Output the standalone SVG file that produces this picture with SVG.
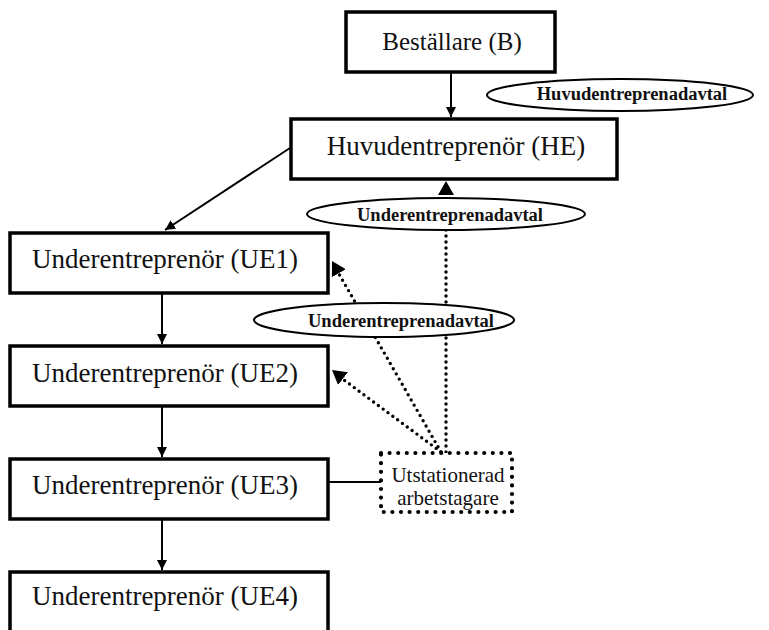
<svg xmlns="http://www.w3.org/2000/svg" width="769" height="630" viewBox="0 0 769 630">
<style>
  .box { fill: #fff; stroke: #000; stroke-width: 3.5; }
  .dbox { fill: #fff; stroke: #000; stroke-width: 4.2; stroke-linecap: round; stroke-dasharray: 0 8.6; }
  .t { font-family: "Liberation Serif", "Times New Roman", serif; fill: #111; text-anchor: middle; }
  .big { font-size: 27px; }
  .mid { font-size: 25px; }
  .lbl { font-size: 18.5px; font-weight: bold; }
  .ut { font-size: 21px; }
  .solid { stroke: #000; stroke-width: 2; fill: none; }
  .dot { stroke: #000; stroke-width: 3.4; fill: none; stroke-linecap: round; stroke-dasharray: 0 6; }
  .ell { fill: #fff; stroke: #000; stroke-width: 2; }
</style>
<defs>
  <marker id="a" viewBox="0 0 10 10" refX="10" refY="5" markerWidth="10" markerHeight="10" markerUnits="userSpaceOnUse" orient="auto">
    <path d="M0,0 L10,5 L0,10 z" fill="#000"/>
  </marker>
  <marker id="b" viewBox="0 0 14 16" refX="14" refY="8" markerWidth="14" markerHeight="16" markerUnits="userSpaceOnUse" orient="auto">
    <path d="M0,0 L14,8 L0,16 z" fill="#000"/>
  </marker>
</defs>
<rect width="769" height="630" fill="#fff"/>

<g id="connectors">
  <line class="solid" x1="451" y1="72" x2="451" y2="117" marker-end="url(#a)"/>
  <line class="solid" x1="290" y1="148" x2="165" y2="230" marker-end="url(#a)"/>
  <line class="solid" x1="162" y1="293" x2="162" y2="344" marker-end="url(#a)"/>
  <line class="solid" x1="162" y1="406" x2="162" y2="457" marker-end="url(#a)"/>
  <line class="solid" x1="162" y1="519" x2="162" y2="570" marker-end="url(#a)"/>
  <line class="solid" x1="328" y1="482" x2="381" y2="482"/>
  <line class="dot" x1="446" y1="452" x2="446" y2="196"/>
  <line x1="446" y1="197" x2="446" y2="181" stroke="none" marker-end="url(#b)"/>
  <line class="dot" x1="441" y1="452" x2="339" y2="274"/>
  <line x1="341" y1="277" x2="332" y2="261" stroke="none" marker-end="url(#b)"/>
  <line class="dot" x1="441" y1="452" x2="344" y2="380"/>
  <line x1="346" y1="381" x2="332" y2="370" stroke="none" marker-end="url(#b)"/>
</g>

<g id="avtal-he">
  <ellipse class="ell" cx="620" cy="95" rx="133" ry="16"/>
  <text class="t lbl" x="632" y="100">Huvudentreprenadavtal</text>
</g>
<g id="avtal-ue-top">
  <ellipse class="ell" cx="446" cy="214" rx="139" ry="16"/>
  <text class="t lbl" x="450" y="221">Underentreprenadavtal</text>
</g>
<g id="avtal-ue-mid">
  <ellipse class="ell" cx="384" cy="320" rx="130" ry="17"/>
  <text class="t lbl" x="401" y="327">Underentreprenadavtal</text>
</g>

<g id="B">
  <rect class="box" x="346" y="12" width="209" height="60"/>
  <text class="t mid" x="452" y="50">Beställare (B)</text>
</g>
<g id="HE">
  <rect class="box" x="291" y="119" width="326" height="60"/>
  <text class="t big" x="456" y="155">Huvudentreprenör (HE)</text>
</g>
<g id="UE1">
  <rect class="box" x="10" y="233" width="318" height="60"/>
  <text class="t big" x="165" y="268">Underentreprenör (UE1)</text>
</g>
<g id="UE2">
  <rect class="box" x="10" y="346" width="318" height="60"/>
  <text class="t big" x="165" y="382">Underentreprenör (UE2)</text>
</g>
<g id="UE3">
  <rect class="box" x="10" y="459" width="318" height="60"/>
  <text class="t big" x="165" y="494">Underentreprenör (UE3)</text>
</g>
<g id="UE4">
  <rect class="box" x="10" y="572" width="318" height="70"/>
  <text class="t big" x="165" y="605">Underentreprenör (UE4)</text>
</g>
<g id="UA">
  <rect class="dbox" x="381" y="453" width="131" height="59"/>
  <text class="t ut" x="448" y="482">Utstationerad</text>
  <text class="t ut" x="448" y="505">arbetstagare</text>
</g>
</svg>
